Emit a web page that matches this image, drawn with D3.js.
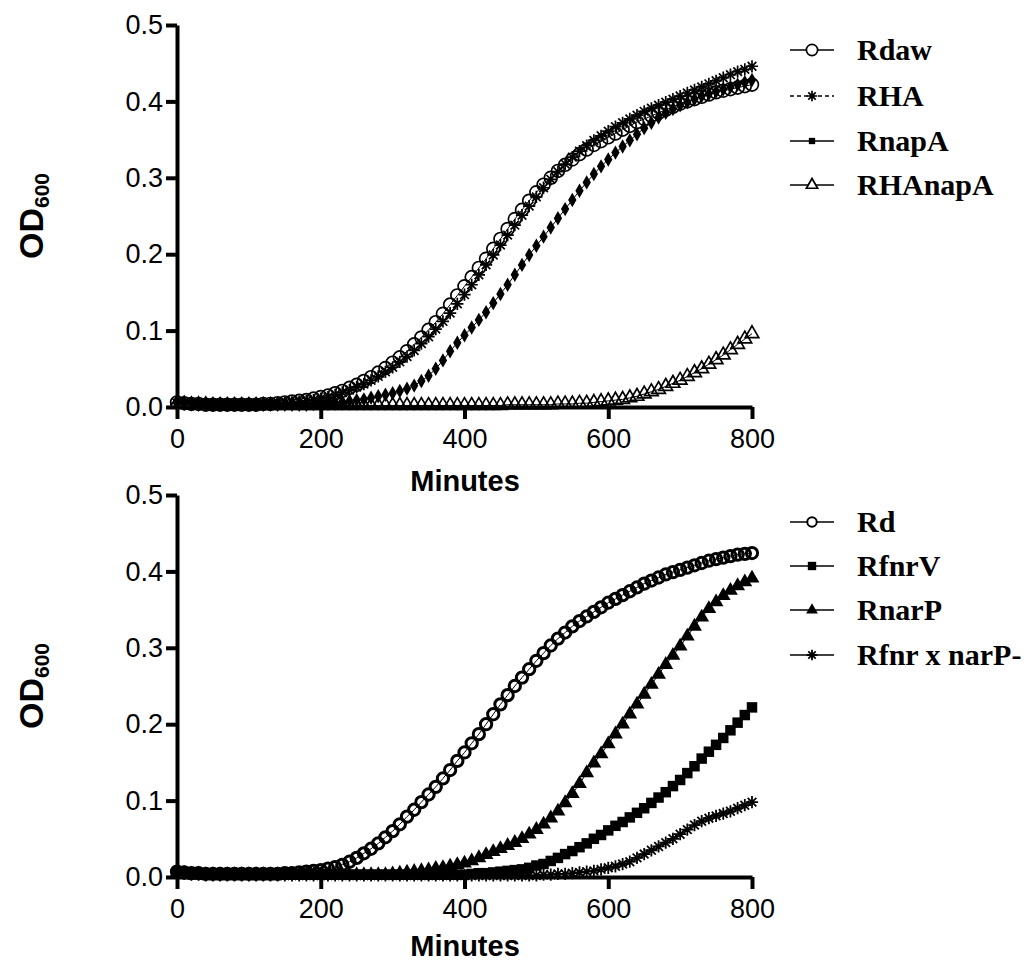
<!DOCTYPE html>
<html>
<head>
<meta charset="utf-8">
<script src="https://cdn.jsdelivr.net/npm/d3@7"></script>
<style>
  body { margin: 0; background: #fff; }
  svg { display: block; }
  .tick text { font-family: Arial, "Liberation Sans", sans-serif; fill: #000; }
</style>
</head>
<body>
<div id="chart"></div>
<script>
// sampling times (minutes)
const minutes = [0,10,20,30,40,50,60,70,80,90,100,110,120,130,140,150,160,170,180,190,
  200,210,220,230,240,250,260,270,280,290,300,310,320,330,340,350,360,370,380,390,
  400,410,420,430,440,450,460,470,480,490,500,510,520,530,540,550,560,570,580,590,
  600,610,620,630,640,650,660,670,680,690,700,710,720,730,740,750,760,770,780,790,800];

const xTicks = [0, 200, 400, 600, 800];
const yTicks = [0.0, 0.1, 0.2, 0.3, 0.4, 0.5];

// top panel
const rdaw = [.006,.005,.004,.004,.003,.003,.003,.003,.003,.003,.003,.003,.004,.004,.005,.006,.007,.008,.009,.011,
  .013,.015,.018,.021,.025,.029,.034,.039,.045,.051,.058,.065,.073,.082,.091,.101,.111,.122,.134,.146,
  .158,.170,.182,.194,.207,.220,.233,.246,.258,.270,.281,.291,.300,.309,.317,.324,.331,.337,.343,.348,
  .353,.358,.363,.368,.373,.377,.381,.385,.389,.393,.397,.400,.403,.406,.409,.412,.414,.416,.418,.420,.422];
const rha = [.005,.004,.004,.003,.003,.003,.003,.003,.003,.003,.003,.003,.003,.004,.004,.005,.006,.007,.008,.009,
  .011,.013,.016,.019,.022,.026,.030,.035,.040,.046,.052,.059,.066,.074,.083,.092,.102,.112,.123,.135,
  .147,.160,.173,.186,.199,.212,.225,.238,.251,.263,.275,.287,.298,.308,.318,.327,.335,.342,.349,.355,
  .361,.367,.372,.377,.382,.387,.391,.395,.399,.403,.407,.411,.415,.419,.423,.427,.431,.435,.439,.442,.446];
const rnapA = [.005,.004,.004,.003,.003,.003,.003,.003,.003,.003,.003,.003,.003,.003,.003,.003,.003,.003,.003,.004,
  .004,.005,.006,.007,.008,.009,.010,.012,.014,.016,.018,.021,.024,.028,.034,.041,.050,.061,.073,.084,
  .094,.104,.114,.124,.136,.148,.160,.173,.186,.199,.211,.223,.235,.247,.259,.271,.283,.294,.305,.315,
  .324,.333,.341,.349,.357,.365,.372,.379,.385,.390,.395,.399,.403,.407,.410,.413,.416,.419,.422,.425,.428];
const rhaNapA = [.005,.004,.003,.003,.003,.002,.002,.002,.002,.002,.002,.002,.002,.002,.002,.002,.002,.002,.002,.002,
  .002,.002,.002,.002,.002,.002,.002,.002,.002,.002,.002,.002,.002,.002,.002,.002,.002,.002,.002,.002,
  .002,.002,.002,.002,.002,.002,.003,.003,.003,.003,.003,.003,.003,.004,.004,.004,.005,.005,.006,.007,
  .008,.009,.010,.012,.014,.017,.020,.023,.027,.031,.035,.040,.045,.050,.056,.062,.068,.075,.082,.089,.096];

// bottom panel
const rd = [.007,.006,.005,.005,.004,.004,.004,.004,.004,.004,.004,.004,.004,.004,.004,.005,.005,.006,.007,.008,
  .009,.011,.013,.016,.020,.025,.031,.037,.044,.052,.060,.069,.079,.088,.098,.108,.118,.129,.140,.152,
  .163,.175,.187,.200,.213,.226,.238,.250,.261,.272,.283,.293,.303,.312,.320,.328,.335,.341,.347,.353,
  .359,.364,.369,.374,.379,.384,.388,.392,.396,.399,.402,.405,.408,.411,.414,.416,.418,.420,.422,.423,.424];
const rfnrV = [.006,.005,.004,.004,.003,.003,.003,.003,.003,.003,.003,.003,.003,.003,.003,.003,.003,.003,.003,.003,
  .003,.003,.003,.003,.003,.003,.003,.003,.003,.003,.003,.003,.003,.003,.003,.003,.003,.003,.003,.003,
  .003,.004,.005,.005,.006,.007,.008,.009,.010,.012,.015,.017,.021,.025,.030,.034,.039,.044,.050,.055,
  .061,.067,.072,.078,.084,.090,.097,.104,.111,.119,.127,.136,.145,.155,.164,.173,.182,.192,.202,.212,.222];
const rnarP = [.006,.005,.004,.004,.003,.003,.003,.003,.003,.003,.003,.003,.003,.003,.003,.003,.003,.003,.003,.003,
  .003,.003,.003,.003,.003,.003,.003,.003,.003,.003,.004,.005,.006,.007,.008,.009,.011,.012,.014,.016,
  .018,.021,.025,.029,.033,.037,.041,.045,.050,.056,.062,.069,.077,.086,.097,.109,.122,.136,.149,.161,
  .174,.187,.200,.213,.226,.239,.252,.265,.278,.290,.302,.315,.328,.340,.351,.360,.368,.375,.381,.386,.391];
const rfnrNarP = [.005,.004,.003,.003,.002,.002,.002,.002,.002,.002,.002,.002,.002,.002,.002,.002,.002,.002,.002,.002,
  .002,.002,.002,.002,.002,.002,.002,.002,.002,.002,.002,.002,.002,.002,.002,.002,.002,.002,.002,.002,
  .002,.002,.002,.002,.002,.002,.002,.002,.002,.002,.002,.003,.003,.004,.004,.005,.006,.007,.008,.010,
  .012,.014,.017,.020,.025,.030,.035,.040,.045,.050,.056,.062,.068,.073,.077,.080,.083,.086,.090,.094,.098];

// eight-spoke star like the Prism asterisk
const starSymbol = {
  draw(ctx, size) {
    const r = Math.sqrt(size) / 2;
    for (let k = 0; k < 4; k++) {
      const a = k * Math.PI / 4;
      ctx.moveTo(-r * Math.cos(a), -r * Math.sin(a));
      ctx.lineTo(r * Math.cos(a), r * Math.sin(a));
    }
  }
};

const panels = [
  {
    top: 25, bottom: 407, titleY: 491,
    series: [
      {name: "RHAnapA", values: rhaNapA, type: d3.symbolTriangle, legType: d3.symbolTriangle, size: 80, leg: 55, fill: "none", sw: 1.7, dash: null},
      {name: "RnapA", values: rnapA, type: d3.symbolDiamond, legType: d3.symbolSquare, size: 60, leg: 40, fill: "#000", sw: 0, dash: null},
      {name: "RHA", values: rha, type: starSymbol, legType: starSymbol, size: 150, leg: 110, fill: "none", sw: 1.7, dash: "4,3"},
      {name: "Rdaw", values: rdaw, type: d3.symbolCircle, legType: d3.symbolCircle, size: 130, leg: 100, fill: "none", sw: 1.7, dash: null}
    ],
    legend: ["Rdaw", "RHA", "RnapA", "RHAnapA"],
    legendY: [50, 96, 141, 185]
  },
  {
    top: 495, bottom: 877, titleY: 956,
    series: [
      {name: "Rfnr x narP-", values: rfnrNarP, type: starSymbol, legType: starSymbol, size: 150, leg: 110, fill: "none", sw: 1.8, dash: null},
      {name: "RfnrV", values: rfnrV, type: d3.symbolSquare, legType: d3.symbolSquare, size: 110, leg: 70, fill: "#000", sw: 0, dash: null},
      {name: "RnarP", values: rnarP, type: d3.symbolTriangle, legType: d3.symbolTriangle, size: 95, leg: 60, fill: "#000", sw: 0, dash: null},
      {name: "Rd", values: rd, type: d3.symbolCircle, legType: d3.symbolCircle, size: 100, leg: 70, fill: "none", sw: 3, dash: null}
    ],
    legend: ["Rd", "RfnrV", "RnarP", "Rfnr x narP-"],
    legendY: [522, 566, 610, 655]
  }
];

const width = 1034, height = 964;
const svg = d3.select("#chart").append("svg")
  .attr("width", width)
  .attr("height", height);

const x = d3.scaleLinear().domain([0, 800]).range([177, 752]);

panels.forEach(function (p) {
  const y = d3.scaleLinear().domain([0, 0.5]).range([p.bottom, p.top]);
  const g = svg.append("g");

  // axes
  const yAxis = g.append("g")
    .attr("transform", "translate(177,0)")
    .call(d3.axisLeft(y).tickValues(yTicks).tickFormat(d3.format(".1f"))
      .tickSize(11).tickSizeOuter(0).tickPadding(3));
  yAxis.selectAll("text").style("font-size", "27px");

  const xAxis = g.append("g")
    .attr("transform", `translate(0,${p.bottom})`)
    .call(d3.axisBottom(x).tickValues(xTicks).tickFormat(d3.format("d"))
      .tickSize(12).tickSizeOuter(0).tickPadding(10));
  xAxis.selectAll("text").style("font-size", "27px");

  g.selectAll(".domain").attr("stroke", "#000").attr("stroke-width", 4);
  g.selectAll(".tick line").attr("stroke", "#000").attr("stroke-width", 4);

  // axis titles
  g.append("text")
    .attr("x", 465).attr("y", p.titleY)
    .attr("text-anchor", "middle")
    .style("font-family", "Arial, 'Liberation Sans', sans-serif")
    .style("font-weight", "bold").style("font-size", "29px")
    .text("Minutes");

  const od = g.append("text")
    .attr("transform", `translate(43,${(p.top + p.bottom) / 2}) rotate(-90)`)
    .attr("text-anchor", "middle")
    .style("font-family", "Arial, 'Liberation Sans', sans-serif")
    .style("font-weight", "bold").style("font-size", "34px");
  od.append("tspan").text("OD");
  od.append("tspan").attr("dy", 6).style("font-size", "21px").text("600");

  // curves
  const line = d3.line().x((d, i) => x(minutes[i])).y(d => y(d));
  p.series.forEach(function (s) {
    g.append("path")
      .datum(s.values)
      .attr("fill", "none")
      .attr("stroke", "#000")
      .attr("stroke-width", 1)
      .attr("stroke-dasharray", s.dash)
      .attr("d", line);
    g.append("g").selectAll("path")
      .data(s.values)
      .join("path")
      .attr("transform", (d, i) => `translate(${x(minutes[i])},${y(d)})`)
      .attr("d", d3.symbol().type(s.type).size(s.size))
      .attr("fill", s.fill)
      .attr("stroke", "#000")
      .attr("stroke-width", s.sw || null)
      .attr("stroke-opacity", s.sw ? 1 : 0);
  });

  // legend
  p.legend.forEach(function (name, i) {
    const s = p.series.find(d => d.name === name);
    const ly = p.legendY[i];
    const lg = g.append("g").attr("transform", `translate(0,${ly})`);
    lg.append("line")
      .attr("x1", 790).attr("x2", 834).attr("y1", 0).attr("y2", 0)
      .attr("stroke", "#000").attr("stroke-width", 1.6)
      .attr("stroke-dasharray", s.dash);
    lg.append("path")
      .attr("transform", "translate(812,0)")
      .attr("d", d3.symbol().type(s.legType).size(s.leg))
      .attr("fill", s.fill === "none" ? "#fff" : s.fill)
      .attr("stroke", "#000")
      .attr("stroke-width", s.sw ? Math.min(s.sw, 2) : null)
      .attr("stroke-opacity", s.sw ? 1 : 0);
    lg.append("text")
      .attr("x", 857).attr("y", 10)
      .style("font-family", "'Liberation Serif', 'Times New Roman', serif")
      .style("font-weight", "bold").style("font-size", "30px")
      .text(name);
  });
});
</script>
</body>
</html>
